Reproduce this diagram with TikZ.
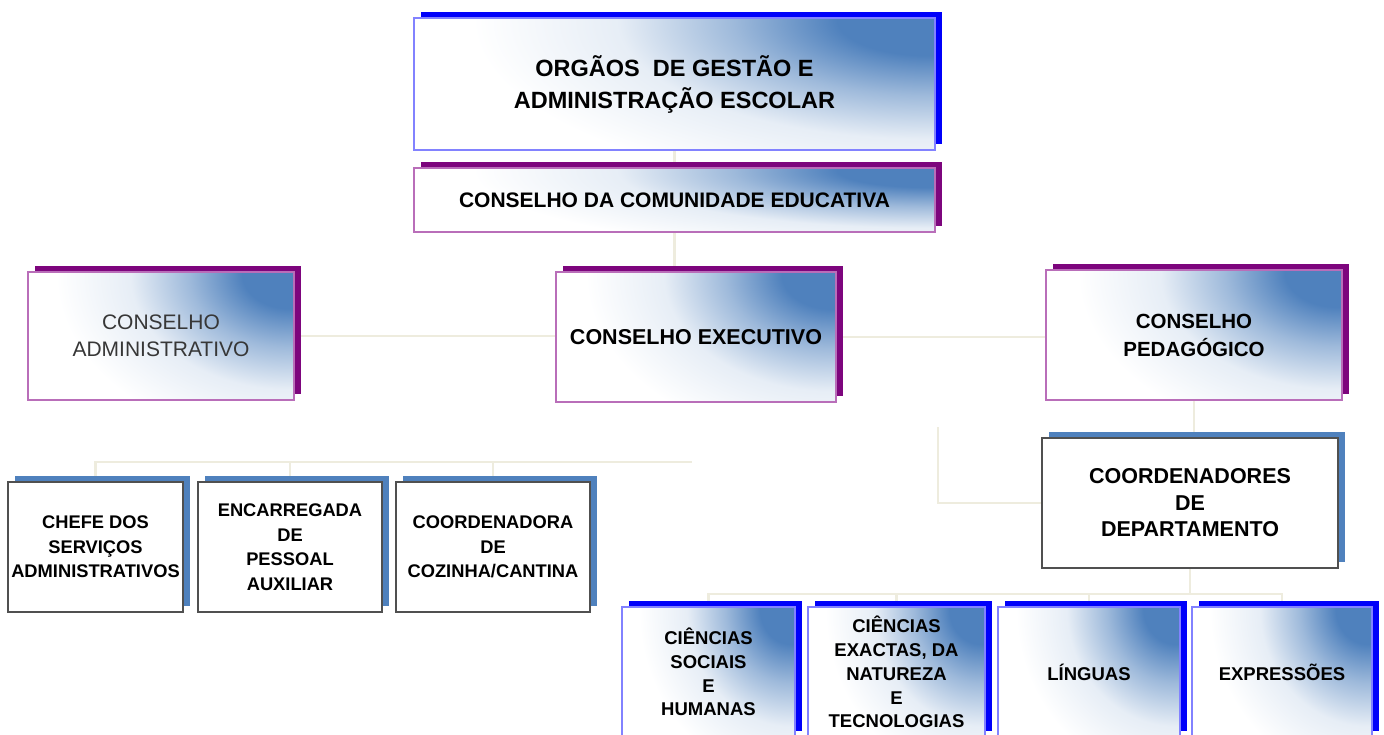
\documentclass[tikz,border=0pt]{standalone}
\usepackage{fontspec}
\setmainfont{Liberation Sans}
\usetikzlibrary{shadows,calc,backgrounds}
\definecolor{gblue}{RGB}{79,129,189}
\definecolor{shblue}{RGB}{0,0,250}
\definecolor{shpurple}{RGB}{125,5,125}
\definecolor{bdblue}{RGB}{130,130,255}
\definecolor{bdpurple}{RGB}{185,110,185}
\definecolor{bdgray}{RGB}{80,80,80}
\definecolor{steel}{RGB}{79,129,189}
\definecolor{connc}{RGB}{238,236,222}
\definecolor{txtgray}{RGB}{55,55,55}
\pgfdeclareradialshading{cornerblue}{\pgfpoint{0bp}{0bp}}{color(0bp)=(gblue); color(4.5bp)=(gblue); color(9.5bp)=(gblue!55); color(15bp)=(gblue!14); color(22bp)=(white); color(50bp)=(white)}
\begin{document}
\begin{tikzpicture}[x=1pt,y=-1pt,
  base/.style={rectangle, fill=white, line width=1.3pt, inner sep=0pt, align=center, text=black},
  grad/.style={path picture={
    \shade[shading=cornerblue]
      let \p1=(path picture bounding box.south west), \p2=(path picture bounding box.north east) in
      ($(\p2)+(-4pt,-2pt)$) ellipse [x radius={1.0*(\x2-\x1)}, y radius={1.5*(\y2-\y1)}];
  }},
  bluebox/.style={base, draw=bdblue, grad, drop shadow={shadow xshift=7pt, shadow yshift=6pt, fill=shblue, opacity=1}},
  purplebox/.style={base, draw=bdpurple, grad, drop shadow={shadow xshift=7pt, shadow yshift=6pt, fill=shpurple, opacity=1}},
  steelbox/.style={base, draw=bdgray, drop shadow={shadow xshift=7pt, shadow yshift=6pt, fill=steel, opacity=1}},
  conn/.style={draw=connc, line width=2.5pt},
  sz/.style 2 args={minimum width=#1, minimum height=#2}
]
\path[use as bounding box, clip] (0,0) rectangle (1384,734);

% top
\node[bluebox, sz={521pt}{132pt}, font=\fontsize{23.5}{32}\selectfont\bfseries] (top) at (674.5,84)
  {ORGÃOS \ DE GESTÃO E\\ADMINISTRAÇÃO ESCOLAR};
\node[purplebox, sz={521pt}{64pt}, font=\fontsize{21}{26}\selectfont\bfseries] (ccomm) at (674.5,200)
  {CONSELHO DA COMUNIDADE EDUCATIVA};

% row 2
\node[purplebox, sz={266pt}{128pt}, font=\fontsize{21}{27}\selectfont, text=txtgray] (adm) at (161,336)
  {CONSELHO\\ADMINISTRATIVO};
\node[purplebox, sz={280pt}{130pt}, font=\fontsize{21.5}{26}\selectfont\bfseries] (exe) at (696,337)
  {CONSELHO EXECUTIVO};
\node[purplebox, sz={296pt}{130pt}, font=\fontsize{20.5}{28}\selectfont\bfseries] (ped) at (1194,335)
  {CONSELHO\\PEDAGÓGICO};

% coordenadores
\node[steelbox, sz={296pt}{130pt}, font=\fontsize{21.5}{26.5}\selectfont\bfseries] (coord) at (1190,503)
  {COORDENADORES\\DE\\DEPARTAMENTO};

% row 3 left
\node[steelbox, sz={175pt}{130pt}, font=\fontsize{18.3}{24.5}\selectfont\bfseries] (chefe) at (95.5,547)
  {CHEFE DOS\\SERVIÇOS\\ADMINISTRATIVOS};
\node[steelbox, sz={184pt}{130pt}, font=\fontsize{18.3}{24.5}\selectfont\bfseries] (enc) at (290,547)
  {ENCARREGADA\\DE\\PESSOAL\\AUXILIAR};
\node[steelbox, sz={194pt}{130pt}, font=\fontsize{18.3}{24.5}\selectfont\bfseries] (coz) at (493,547)
  {COORDENADORA\\DE\\COZINHA/CANTINA};

% bottom row
\node[bluebox, sz={173pt}{130pt}, font=\fontsize{18.5}{23.8}\selectfont\bfseries] (b1) at (708.5,672)
  {CIÊNCIAS\\SOCIAIS\\E\\HUMANAS};
\node[bluebox, sz={177pt}{130pt}, font=\fontsize{18.5}{23.8}\selectfont\bfseries] (b2) at (896.5,672)
  {CIÊNCIAS\\EXACTAS, DA\\NATUREZA\\E\\TECNOLOGIAS};
\node[bluebox, sz={182pt}{130pt}, font=\fontsize{18.5}{23.8}\selectfont\bfseries] (b3) at (1089,672)
  {LÍNGUAS};
\node[bluebox, sz={180pt}{130pt}, font=\fontsize{18.5}{23.8}\selectfont\bfseries] (b4) at (1282,672)
  {EXPRESSÕES};

\coordinate (el) at (938,427);
\coordinate (lt) at (692,462);
\coordinate (bus) at (0,594);

\begin{scope}[on background layer]
\draw[conn] (top.south) -- (ccomm.north);
\draw[conn] (ccomm.south) -- (ccomm.south |- exe.north);
\draw[conn] (adm.east) -- (adm.east -| exe.west);
\draw[conn] (exe.east) -- (exe.east -| ped.west);
\draw[conn] (ped.south) -- (ped.south |- coord.north);
\draw[conn] (el) |- (coord.west);
\draw[conn] (lt) -| (chefe.north);
\draw[conn] (enc.north |- lt) -- (enc.north);
\draw[conn] (coz.north |- lt) -- (coz.north);
\draw[conn] (coord.south) -- (coord.south |- bus);
\draw[conn] (b1.north) -- (b1.north |- bus) -- (b4.north |- bus) -- (b4.north);
\draw[conn] (b2.north |- bus) -- (b2.north);
\draw[conn] (b3.north |- bus) -- (b3.north);
\end{scope}
\end{tikzpicture}
\end{document}
